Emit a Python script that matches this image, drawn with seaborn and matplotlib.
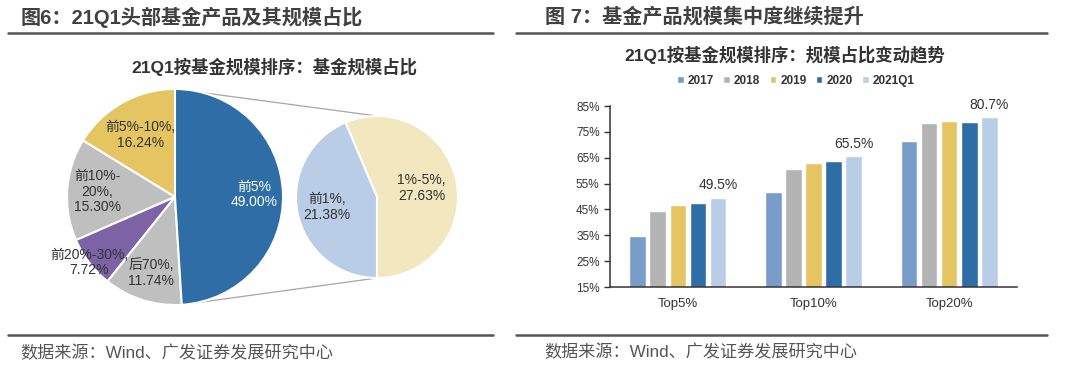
import numpy as np
import pandas as pd
import matplotlib
matplotlib.use('Agg')
import matplotlib.pyplot as plt
import seaborn as sns
from matplotlib.patches import ConnectionPatch
from matplotlib.lines import Line2D

sns.set_style('white')
plt.rcParams['font.family'] = ['Liberation Sans', 'Noto Sans CJK SC', 'DejaVu Sans']

# ---- data: left pie (21Q1 share by fund size rank) ----
pie_labels = ['前5%-10%', '前10%-\n20%', '前20%-30%', '后70%', '前5%']
pie_values = [16.24, 15.30, 7.72, 11.74, 49.00]
pie_colors = ['#E4C562', '#BFBFBF', '#7B63A5', '#BFBFBF', '#2E6DA5']

# breakdown of the top 5%
sub_labels = ['1%-5%', '前1%']
sub_values = [27.63, 21.38]
sub_colors = ['#F2E7BF', '#B9CDE6']

# ---- data: right bars ----
groups = ['Top5%', 'Top10%', 'Top20%']
years = ['2017', '2018', '2019', '2020', '2021Q1']
share_2017 = [34.7, 51.9, 71.5]
share_2018 = [44.2, 60.8, 78.5]
share_2019 = [46.6, 62.8, 79.2]
share_2020 = [47.6, 63.6, 78.9]
share_2021q1 = [49.5, 65.5, 80.7]
bar_colors = ['#7A9CC9', '#B3B3B3', '#E4C562', '#2E6DA5', '#B9CDE6']

W, H = 1080, 371
fig = plt.figure(figsize=(W / 100, H / 100), dpi=100)
fig.patch.set_facecolor('white')
txt = '#333333'

def px_axes(x0, y0, w, h):
    # pixel box (top-left origin) -> figure fraction
    return fig.add_axes([x0 / W, 1 - (y0 + h) / H, w / W, h / H])

# ---------- left panel ----------
r1 = 108
ax1 = px_axes(175 - r1, 197 - r1, 2 * r1, 2 * r1)
wedges1, _ = ax1.pie(pie_values, colors=pie_colors, startangle=90, counterclock=True,
                     wedgeprops=dict(edgecolor='white', linewidth=1.5))
ax1.set_xlim(-1, 1)
ax1.set_ylim(-1, 1)
label_r = [0.66, 0.72, 1.0, 0.74, 0.73]
for w, lab, val, rr in zip(wedges1, pie_labels, pie_values, label_r):
    ang = np.deg2rad((w.theta1 + w.theta2) / 2)
    col = 'white' if lab == '前5%' else txt
    sep = '\n' if lab == '前5%' else ',\n'
    ax1.text(rr * np.cos(ang), rr * np.sin(ang), f'{lab}{sep}{val:.2f}%',
             ha='center', va='center', fontsize=10, color=col, linespacing=1.15)

r2 = 81
ax2 = px_axes(377 - r2, 197 - r2, 2 * r2, 2 * r2)
wedges2, _ = ax2.pie(sub_values, colors=sub_colors, startangle=-90, counterclock=True,
                     wedgeprops=dict(edgecolor='white', linewidth=1.5))
ax2.set_xlim(-1, 1)
ax2.set_ylim(-1, 1)
for w, lab, val, rr in zip(wedges2, sub_labels, sub_values, [0.56, 0.63]):
    ang = np.deg2rad((w.theta1 + w.theta2) / 2)
    ax2.text(rr * np.cos(ang), rr * np.sin(ang), f'{lab},\n{val:.2f}%',
             ha='center', va='center', fontsize=10, color=txt, linespacing=1.15)

# connector lines from the 前5% wedge edges to the sub pie
big = wedges1[-1]
for th_a, th_b in [(big.theta2, 90), (big.theta1, -90)]:
    pa = (np.cos(np.deg2rad(th_a)), np.sin(np.deg2rad(th_a)))
    pb = (np.cos(np.deg2rad(th_b)), np.sin(np.deg2rad(th_b)))
    con = ConnectionPatch(xyA=pa, xyB=pb, coordsA=ax1.transData, coordsB=ax2.transData,
                          color='#A6A6A6', linewidth=0.9, zorder=-1)
    fig.add_artist(con)

# ---------- right panel ----------
df = pd.DataFrame({
    'group': groups * 5,
    'year': np.repeat(years, 3),
    'value': share_2017 + share_2018 + share_2019 + share_2020 + share_2021q1,
})
ax3 = px_axes(610, 106, 407, 181)
sns.barplot(data=df, x='group', y='value', hue='year', palette=bar_colors,
            width=0.74, gap=0.17, ax=ax3, saturation=1)
ax3.set_ylim(15, 85)
ax3.set_xlim(-0.5, 2.5)
ax3.set_yticks(range(15, 86, 10))
ax3.set_yticklabels([f'{v}%' for v in range(15, 86, 10)])
ax3.set_xlabel('')
ax3.set_ylabel('')
ax3.set_xticks([-0.5, 0.5, 1.5, 2.5], minor=True)
ax3.tick_params(axis='x', which='major', length=0, labelsize=9.5, colors=txt, pad=8)
ax3.tick_params(axis='x', which='minor', length=5, width=1, color='#333333', direction='out')
ax3.tick_params(axis='y', length=4, width=1, color='#333333', direction='out',
                labelsize=8.5, labelcolor=txt, left=True)
sns.despine(ax=ax3)
for s in ['left', 'bottom']:
    ax3.spines[s].set_color('#333333')
    ax3.spines[s].set_linewidth(1.1)
ax3.bar_label(ax3.containers[-1], labels=[f'{v}%' for v in share_2021q1],
              padding=4, fontsize=10, color=txt)

handles, labs = ax3.get_legend_handles_labels()
ax3.legend(handles, labs, loc='center', bbox_to_anchor=(796 / W, 1 - 81 / H),
           bbox_transform=fig.transFigure, ncol=5, frameon=False,
           handlelength=0.55, handleheight=0.55, handletextpad=0.35,
           columnspacing=0.8, prop=dict(size=8.5, weight='bold'), labelcolor=txt)

# ---------- titles, rules, sources ----------
fig.text(21 / W, 1 - 17 / H, '图6：21Q1头部基金产品及其规模占比', fontsize=14.5,
         fontweight='bold', color='#404040', va='center', ha='left')
fig.text(545 / W, 1 - 17 / H, '图 7：基金产品规模集中度继续提升', fontsize=14.5,
         fontweight='bold', color='#404040', va='center', ha='left')
fig.text(274 / W, 1 - 67 / H, '21Q1按基金规模排序：基金规模占比', fontsize=12.5,
         fontweight='bold', color=txt, va='center', ha='center')
fig.text(785 / W, 1 - 55 / H, '21Q1按基金规模排序：规模占比变动趋势', fontsize=12.5,
         fontweight='bold', color=txt, va='center', ha='center')
for x0, x1 in [(8, 493), (516, 1047)]:
    for y in (33, 335):
        fig.add_artist(Line2D([x0 / W, x1 / W], [1 - y / H, 1 - y / H],
                              color='#555555', linewidth=1.8))
fig.text(20 / W, 1 - 353 / H, '数据来源：Wind、广发证券发展研究中心', fontsize=12.3,
         color='#555555', va='center', ha='left')
fig.text(544 / W, 1 - 352 / H, '数据来源：Wind、广发证券发展研究中心', fontsize=12.3,
         color='#555555', va='center', ha='left')

fig.savefig('out.png', dpi=100, facecolor='white')
